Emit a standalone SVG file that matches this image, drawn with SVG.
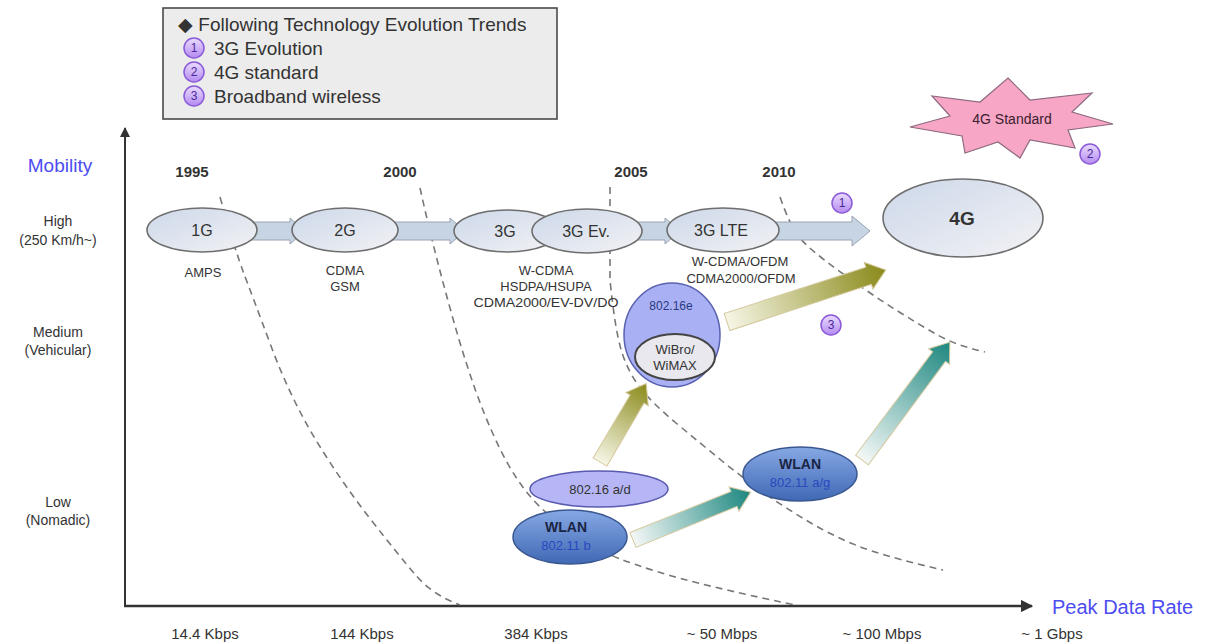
<svg xmlns="http://www.w3.org/2000/svg" width="1207" height="643" viewBox="0 0 1207 643">
<defs>
<style>
.t{font-family:"Liberation Sans",Arial,sans-serif;fill:#333}
.c{text-anchor:middle}
.dash{fill:none;stroke:#777;stroke-width:1.6;stroke-dasharray:7 5}
.band{fill:#c6d4e4;stroke:#9aa4b0;stroke-width:1}
.gen{fill:url(#gEll);stroke:#6e6e6e;stroke-width:1.6}
.num{fill:url(#gNum);stroke:#8a5ad8;stroke-width:1.5}
.numt{font-family:"Liberation Sans",Arial,sans-serif;font-size:12px;fill:#4a2a9a;text-anchor:middle}
.wlan{fill:url(#gWlan);stroke:#3a5790;stroke-width:1.5}
</style>
<linearGradient id="gEll" x1="0" y1="0" x2="1" y2="1"><stop offset="0" stop-color="#cdd8ea"/><stop offset="1" stop-color="#f2f2f4"/></linearGradient>
<linearGradient id="gNum" x1="0" y1="0" x2="0" y2="1"><stop offset="0" stop-color="#eadcff"/><stop offset="1" stop-color="#b48af0"/></linearGradient>
<linearGradient id="gWlan" x1="0" y1="0" x2="0" y2="1"><stop offset="0" stop-color="#86a8e4"/><stop offset="1" stop-color="#4068b4"/></linearGradient>
<linearGradient id="gOlive" x1="0" y1="0" x2="1" y2="0"><stop offset="0" stop-color="#f6f6e6"/><stop offset="1" stop-color="#8a8a1a"/></linearGradient>
<linearGradient id="gTeal" x1="0" y1="0" x2="1" y2="0"><stop offset="0" stop-color="#f4f8f6"/><stop offset="1" stop-color="#1d8780"/></linearGradient>
<marker id="ah" viewBox="0 0 10 10" refX="9" refY="5" markerWidth="5" markerHeight="5" orient="auto"><path d="M0,0 L10,5 L0,10 Z" fill="#333"/></marker>
</defs>
<rect width="1207" height="643" fill="#fff"/>

<!-- legend -->
<g id="legend">
<rect x="163" y="8" width="394" height="111" fill="#ececec" stroke="#4a4a4a" stroke-width="1.6"/>
<text class="t" x="178" y="31" font-size="19">◆ Following Technology Evolution Trends</text>
<circle class="num" cx="194" cy="48" r="10"/><text class="numt" x="194" y="52">1</text>
<text class="t" x="214" y="55" font-size="19">3G Evolution</text>
<circle class="num" cx="194" cy="72" r="10"/><text class="numt" x="194" y="76">2</text>
<text class="t" x="214" y="79" font-size="19">4G standard</text>
<circle class="num" cx="194" cy="96" r="10"/><text class="numt" x="194" y="100">3</text>
<text class="t" x="214" y="103" font-size="19">Broadband wireless</text>
</g>

<!-- axes labels -->
<g id="axis-labels">
<text class="t c" x="60" y="172" font-size="19" style="fill:#4c4cf0">Mobility</text>
<text class="t c" x="58" y="226" font-size="14">High</text>
<text class="t c" x="58" y="245" font-size="14">(250 Km/h~)</text>
<text class="t c" x="58" y="337" font-size="14">Medium</text>
<text class="t c" x="58" y="355" font-size="14">(Vehicular)</text>
<text class="t c" x="58" y="507" font-size="14">Low</text>
<text class="t c" x="58" y="525" font-size="14">(Nomadic)</text>
<text class="t" x="1052" y="614" font-size="20" style="fill:#4c4cf0">Peak Data Rate</text>
<text class="t c" x="205" y="639" font-size="15">14.4 Kbps</text>
<text class="t c" x="362" y="639" font-size="15">144 Kbps</text>
<text class="t c" x="536" y="639" font-size="15">384 Kbps</text>
<text class="t c" x="722" y="639" font-size="15">~ 50 Mbps</text>
<text class="t c" x="882" y="639" font-size="15">~ 100 Mbps</text>
<text class="t c" x="1052" y="639" font-size="15">~ 1 Gbps</text>
<text class="t c" x="192" y="177" font-size="15" font-weight="bold">1995</text>
<text class="t c" x="400" y="177" font-size="15" font-weight="bold">2000</text>
<text class="t c" x="631" y="177" font-size="15" font-weight="bold">2005</text>
<text class="t c" x="779" y="177" font-size="15" font-weight="bold">2010</text>
</g>

<!-- connectors: axes, dashed boundaries, arrows -->
<g id="connectors">
<line x1="125" y1="606" x2="125" y2="128" stroke="#333" stroke-width="2" marker-end="url(#ah)"/>
<line x1="124" y1="606" x2="1032" y2="606" stroke="#333" stroke-width="2.5" marker-end="url(#ah)"/>
<path class="dash" d="M220,197 Q235,250 243.5,272.5 Q252,295 271,346 Q290,397 315,438.5 Q340,480 370,518.5 Q400,557 416.5,576 Q433,595 460,605"/>
<path class="dash" d="M420,188 Q433,247 450,308 Q467,370 483.5,411.5 Q500,453 516.5,478 Q533,503 554,519 Q575,535 594,546.5 Q613,558 656.5,571.5 Q700,585 795,605"/>
<path class="dash" d="M610,187 L610,280 Q615,330 621.5,351 Q628,372 640,387.5 Q652,403 676,423 Q700,443 721.5,460.5 Q743,478 765,493.5 Q787,509 810,522.5 Q833,536 858,546 Q883,556 943,570"/>
<path class="dash" d="M780,197 Q790,225 797.5,235 Q805,245 822.5,258.5 Q840,272 860,286 Q880,300 900,312.5 Q920,325 937.5,335 Q955,345 985,352"/>
<path class="band" d="M230,222 H290 V218 L305,231 L290,244 V240 H230 Z"/>
<path class="band" d="M380,222 H450 V218 L465,231 L450,244 V240 H380 Z"/>
<path class="band" d="M630,222 H665 V218 L680,231 L665,244 V240 H630 Z"/>
<path class="band" d="M760,222 H852 V216 L870,231 L852,246 V240 H760 Z"/>
<g stroke="#d6c9a0" stroke-width="1">
<path transform="translate(600,462) rotate(-59.5)" fill="url(#gOlive)" d="M0,-8 H73 V-13 L91,0 L73,13 V8 H0 Z"/>
<path transform="translate(727,322) rotate(-18.1)" fill="url(#gOlive)" d="M0,-9 H149 V-14 L167,0 L149,14 V9 H0 Z"/>
<path transform="translate(633,540) rotate(-22.1)" fill="url(#gTeal)" d="M0,-8 H109 V-13 L127,0 L109,13 V8 H0 Z"/>
<path transform="translate(862,460) rotate(-53.3)" fill="url(#gTeal)" d="M0,-8 H129 V-13 L147,0 L129,13 V8 H0 Z"/>
</g>
</g>

<!-- generation nodes -->
<g id="n1G"><ellipse class="gen" cx="202" cy="230" rx="55" ry="22"/><text class="t c" x="202" y="236" font-size="16">1G</text><text class="t c" x="203" y="277" font-size="13">AMPS</text></g>
<g id="n2G"><ellipse class="gen" cx="345" cy="230" rx="53" ry="22"/><text class="t c" x="345" y="236" font-size="16">2G</text><text class="t c" x="345" y="275" font-size="13">CDMA</text><text class="t c" x="345" y="291" font-size="13">GSM</text></g>
<g id="n3G"><ellipse class="gen" cx="507" cy="231" rx="53" ry="21"/><text class="t c" x="505" y="237" font-size="16">3G</text></g>
<g id="n3GEv"><ellipse class="gen" cx="587" cy="231" rx="55" ry="22"/><text class="t c" x="586" y="237" font-size="16">3G Ev.</text>
<text class="t c" x="546" y="275" font-size="13">W-CDMA</text><text class="t c" x="546" y="291" font-size="13">HSDPA/HSUPA</text><text class="t c" x="546" y="307" font-size="13" textLength="145" lengthAdjust="spacingAndGlyphs">CDMA2000/EV-DV/DO</text></g>
<g id="n3GLTE"><ellipse class="gen" cx="723" cy="230" rx="56" ry="22"/><text class="t c" x="721" y="236" font-size="16">3G LTE</text>
<text class="t c" x="740" y="266" font-size="13">W-CDMA/OFDM</text><text class="t c" x="741" y="283" font-size="13">CDMA2000/OFDM</text></g>
<g id="n4G"><ellipse class="gen" cx="963" cy="218" rx="80" ry="39"/><text class="t c" x="962" y="225" font-size="19" font-weight="bold">4G</text></g>

<g id="star4G">
<polygon points="1008,78 1030,100 1092,93 1072,112 1113,124 1068,130 1075,148 1030,140 1020,158 998,142 965,153 962,136 910,127 950,116 932,96 980,102" fill="#f7a6c6" stroke="#8e6a80" stroke-width="1.2"/>
<text class="t c" x="1012" y="124" font-size="14" style="fill:#3a2030">4G Standard</text>
</g>

<g id="marks">
<circle class="num" cx="842" cy="203" r="10"/><text class="numt" x="842" y="207">1</text>
<circle class="num" cx="1090" cy="154" r="10"/><text class="numt" x="1090" y="158">2</text>
<circle class="num" cx="831" cy="325" r="10"/><text class="numt" x="831" y="329">3</text>
</g>

<g id="n80216e">
<ellipse cx="672" cy="335" rx="48" ry="52" fill="#a9b1f4" stroke="#5a62b0" stroke-width="1.5"/>
<text class="t c" x="671" y="310" font-size="12" style="fill:#2a3a80">802.16e</text>
<ellipse cx="675" cy="357" rx="40" ry="23" fill="#e8e8ee" stroke="#444" stroke-width="2"/>
<text class="t c" x="675" y="354" font-size="13">WiBro/</text>
<text class="t c" x="675" y="370" font-size="13">WiMAX</text>
</g>
<g id="n80216ad">
<ellipse cx="599" cy="489" rx="69" ry="18" fill="#b6b6f6" stroke="#5a5ab0" stroke-width="1.5"/>
<text class="t c" x="600" y="494" font-size="13">802.16 a/d</text>
</g>
<g id="nWLANb">
<ellipse class="wlan" cx="570" cy="537" rx="57" ry="27"/>
<text class="t c" x="566" y="532" font-size="14" font-weight="bold" style="fill:#1a2444">WLAN</text>
<text class="t c" x="566" y="550" font-size="13" style="fill:#2a48c0">802.11 b</text>
</g>
<g id="nWLANag">
<ellipse class="wlan" cx="800" cy="474" rx="57" ry="27"/>
<text class="t c" x="800" y="469" font-size="14" font-weight="bold" style="fill:#1a2444">WLAN</text>
<text class="t c" x="800" y="487" font-size="13" style="fill:#2a48c0">802.11 a/g</text>
</g>
</svg>
